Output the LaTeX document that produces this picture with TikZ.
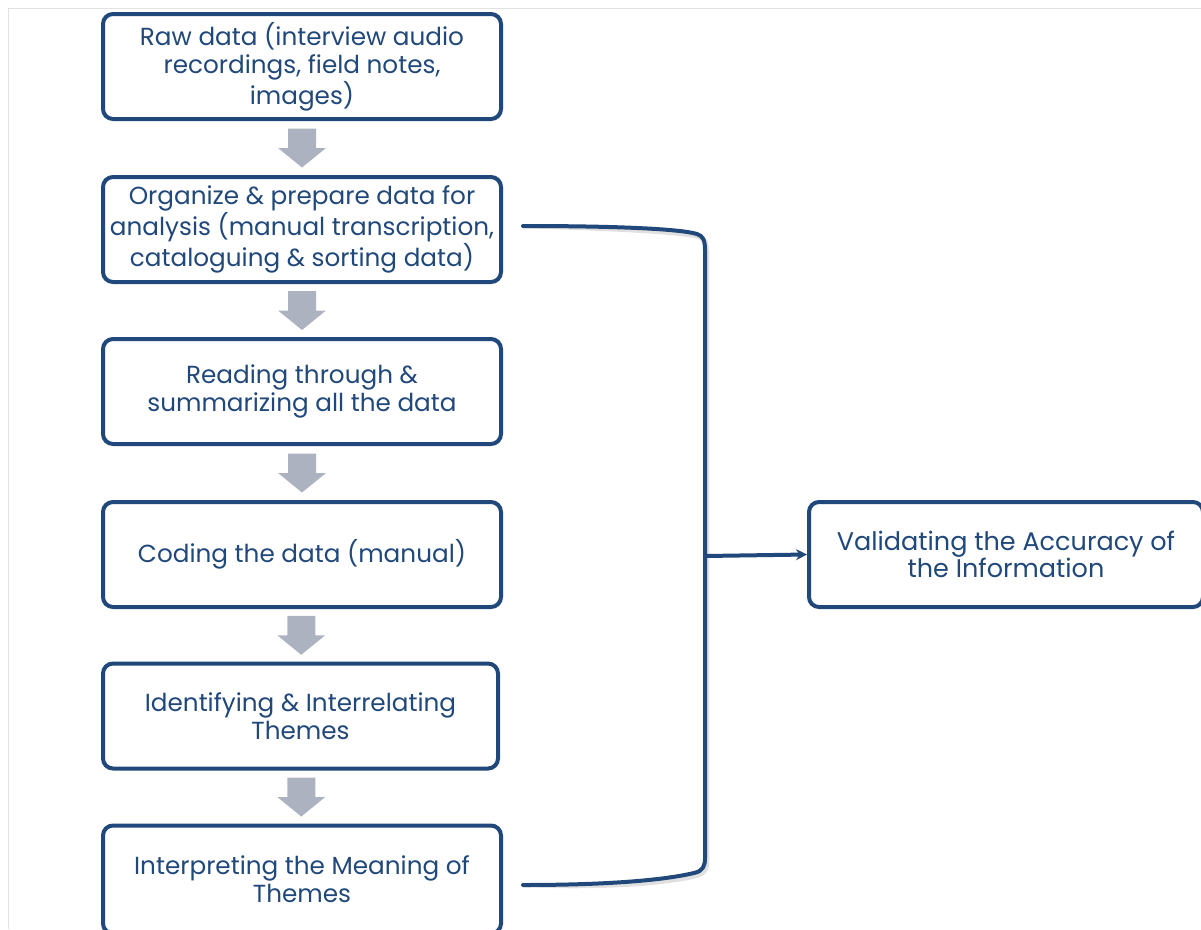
\documentclass[tikz,border=0pt]{standalone}
\usepackage{fontspec}
\setmainfont{Poppins}
\usetikzlibrary{calc,arrows.meta}
\definecolor{navy}{RGB}{33,72,122}
\definecolor{stepgrey}{RGB}{173,178,193}
\definecolor{framegrey}{RGB}{226,226,226}
\tikzset{
  stepbox/.style={draw=navy, line width=4pt, rounded corners=10pt, fill=white,
    minimum width=398pt, minimum height=105pt, inner sep=0pt, align=center,
    text=navy, font=\fontsize{24.7}{28}\selectfont},
  flowarrow/.style={fill=stepgrey, draw=none},
  bracket/.style={draw=navy, line width=4pt, line cap=round},
  bracketshadow/.style={draw=black, opacity=0.12, line width=4.5pt},
}
\begin{document}
\begin{tikzpicture}[x=1pt,y=-1pt]
\useasboundingbox (0,0) rectangle (1201,929);
% light page frame
\draw[framegrey, line width=1pt] (8,929) -- (8,8) -- (1201,8);

% process steps
\node[stepbox] (s1) at (302,66.5) {Raw data (interview audio\\recordings, field notes,\\images)};
\node[stepbox] (s2) at (302,229.5) {Organize \& prepare data for\\analysis (manual transcription,\\cataloguing \& sorting data)};
\node[stepbox] (s3) at (302,391.5) {Reading through \&\\summarizing all the data};
\node[stepbox] (s4) at (302,554.5) {Coding the data (manual)};
\node[stepbox, minimum width=395pt] (s5) at (300.5,716) {Identifying \& Interrelating\\Themes};
\node[stepbox, minimum height=108pt] (s6) at (302,879.5) {Interpreting the Meaning of\\Themes};
\node[stepbox, minimum width=394pt, font=\fontsize{25.5}{26}\selectfont] (val) at (1006,554.5) {Validating the Accuracy of\\the Information};

% grey block arrows between consecutive steps
\foreach \a/\b in {s1/s2,s2/s3,s3/s4,s4/s5,s5/s6}{
  \coordinate (m) at ($(\a.south)!0.5!(\b.north)$);
  \fill[flowarrow] ($(m)+(-14,-19.5)$) -- ($(m)+(14,-19.5)$) -- ($(m)+(14,0)$)
    -- ($(m)+(24,0)$) -- ($(m)+(0,19.5)$) -- ($(m)+(-24,0)$) -- ($(m)+(-14,0)$) -- cycle;
}

% bracket gathering steps 2 to 6
\coordinate (btop) at ($(s2.east)+(20,-3.5)$);
\coordinate (bbot) at ($(s6.east)+(20,5.5)$);
\coordinate (bmid) at (705,556);
\foreach \st/\sh in {bracketshadow/{(2,3)},bracket/{(0,0)}}{
  \draw[\st, shift={\sh}] (btop) .. controls (620,226) and (680,229) .. (697,234)
    .. controls (703,236) and (705,240) .. (705,250) -- (705,858)
    .. controls (705,866) and (703,871) .. (694,873)
    .. controls (660,881) and (600,885) .. (bbot);
}
\draw[navy, line width=4pt, -{Stealth[length=11pt,width=11pt]}] (bmid) -- (val.west);
\end{tikzpicture}
\end{document}
